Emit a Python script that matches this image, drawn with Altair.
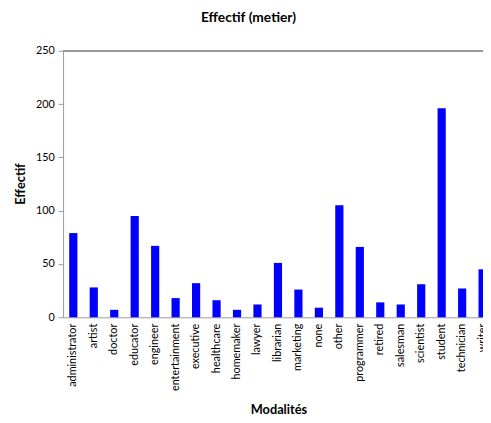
import altair as alt
import pandas as pd

categories = ["administrator", "artist", "doctor", "educator", "engineer",
              "entertainment", "executive", "healthcare", "homemaker", "lawyer",
              "librarian", "marketing", "none", "other", "programmer", "retired",
              "salesman", "scientist", "student", "technician", "writer"]
counts = [79, 28, 7, 95, 67, 18, 32, 16, 7, 12, 51, 26, 9, 105, 66, 14, 12, 31, 196, 27, 45]

df = pd.DataFrame({"metier": categories, "effectif": counts})

FONT = "Lato"

bars = alt.Chart(df).mark_bar(color="#0000FF").encode(
    x=alt.X("metier:N", sort=categories, title="Modalités",
            scale=alt.Scale(range=[0, 437], paddingInner=0.6, paddingOuter=0.3),
            axis=alt.Axis(labelAngle=-90, ticks=False, labelPadding=6,
                          domainColor="#999999", labelColor="#000000",
                          labelFont=FONT, labelFontSize=11,
                          titleFont=FONT, titleFontSize=13, titleFontWeight="bold",
                          titleColor="#000000", titleBaseline="middle",
                          titleX=219, titleY=94)),
    y=alt.Y("effectif:Q", title="Effectif",
            scale=alt.Scale(domain=[0, 250], nice=False),
            axis=alt.Axis(values=[0, 50, 100, 150, 200, 250], grid=False,
                          tickSize=5, tickColor="#999999", domainColor="#999999",
                          labelPadding=4, labelColor="#000000",
                          labelFont=FONT, labelFontSize=11,
                          titleFont=FONT, titleFontSize=13, titleFontWeight="bold",
                          titleColor="#000000", titleBaseline="middle",
                          titleX=-43, titleY=135)),
)

top_line = alt.Chart(df).mark_rule(color="#999999", strokeWidth=1).encode(
    y=alt.datum(250)
)

chart = alt.layer(bars, top_line).properties(
    width=427,
    height=271,
    autosize=alt.AutoSizeParams(type="none"),
    padding={"left": 56, "top": 40, "right": 0, "bottom": 104},
    title=alt.TitleParams("Effectif (metier)", font=FONT, fontSize=14,
                          fontWeight="bold", color="#000000", offset=20, dx=-25),
).configure_view(stroke=None)

chart.save("out.html", embed_options={"renderer": "svg", "actions": False})
